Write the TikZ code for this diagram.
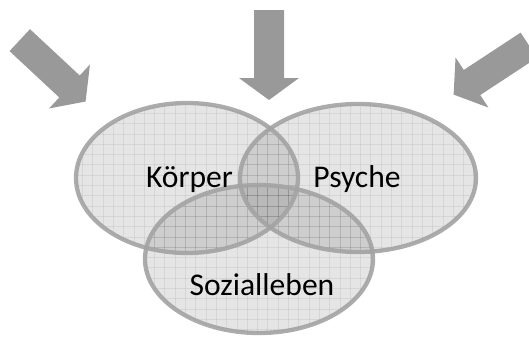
\documentclass[tikz,border=0pt]{standalone}
\usepackage{fontspec}
\setmainfont{Carlito}
\definecolor{arrowgray}{HTML}{999999}
\definecolor{ringgray}{HTML}{A3A3A3}
\tikzset{
  setfill/.style={fill=black, fill opacity=0.1},
  gridline/.style={draw=black, draw opacity=0.065, line width=0.8pt},
  ring/.style={draw=ringgray, line width=4.3pt, draw opacity=0.9},
  blockarrow/.style={fill=arrowgray, draw=none},
  setlabel/.style={font=\fontsize{31.6}{38}\selectfont, text=black, inner sep=0pt}
}
\newcommand{\mygridfill}[3]{%
  \begin{scope}
    \clip (#1) ellipse [x radius=#2pt, y radius=#3pt];
    \fill[setfill] (#1) ellipse [x radius=#2pt, y radius=#3pt];
    \foreach \i in {0,...,52} {\draw[gridline] (\i*10.3,0) -- (\i*10.3,338);}
    \foreach \j in {0,...,33} {\draw[gridline] (0,\j*10.3) -- (529,\j*10.3);}
  \end{scope}}
\newcommand{\myarrowshape}{%
  \fill[blockarrow] (-68,-15) -- (0,-15) -- (0,-30) -- (22,0) -- (0,30) -- (0,15) -- (-68,15) -- cycle;}
\begin{document}
\begin{tikzpicture}[x=1pt,y=-1pt]
\useasboundingbox (0,0) rectangle (529,338);
\coordinate (ck) at (187,178);
\coordinate (cp) at (358,178);
\coordinate (cs) at (259,259);
% fills with grid
\mygridfill{ck}{111}{75}
\mygridfill{cp}{118}{74}
\mygridfill{cs}{114}{74}
% outlines
\draw[ring] (ck) ellipse [x radius=111pt, y radius=75pt];
\draw[ring] (cp) ellipse [x radius=118pt, y radius=74pt];
\draw[ring] (cs) ellipse [x radius=114pt, y radius=74pt];
% labels
\node[setlabel, anchor=base] (koerper) at (189.5,187) {Körper};
\node[setlabel, anchor=base] (psyche) at (357,187) {Psyche};
\node[setlabel, anchor=base] (sozial) at (262,295) {Sozialleben};
% block arrows
\begin{scope}[shift={(69.5,86.5)}, rotate=-43]
  \myarrowshape
\end{scope}
\begin{scope}[shift={(269,78)}, rotate=-90]
  \myarrowshape
\end{scope}
\begin{scope}[shift={(472,82.5)}, rotate=-146.7]
  \myarrowshape
\end{scope}
\end{tikzpicture}
\end{document}
